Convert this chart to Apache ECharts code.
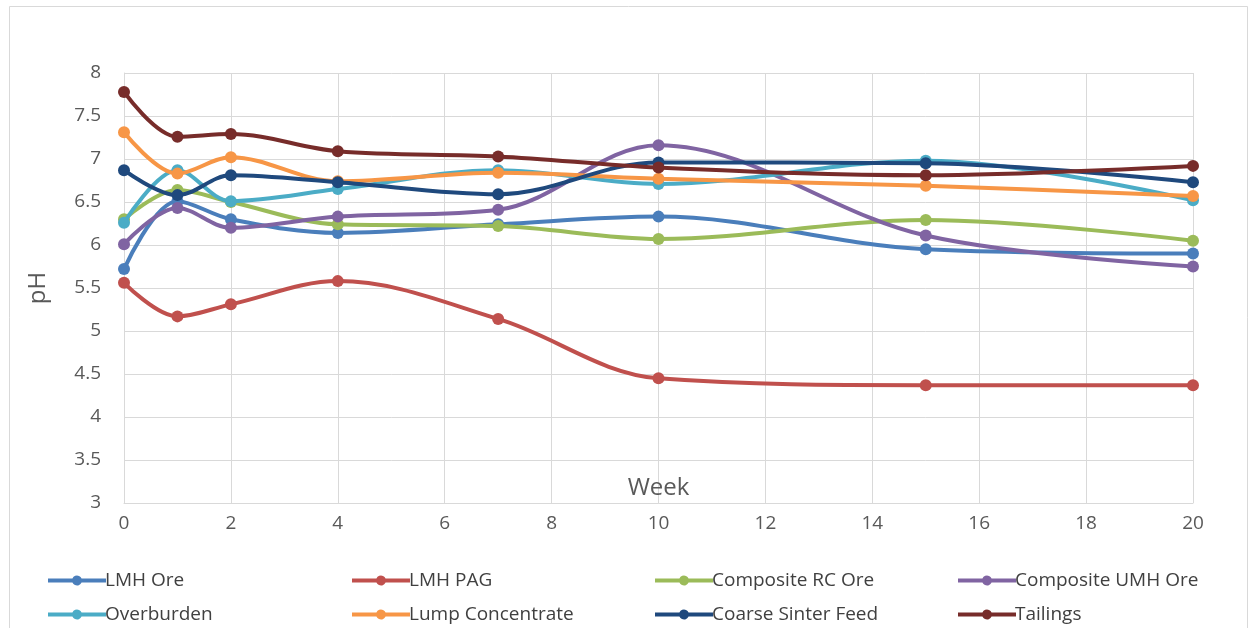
<!DOCTYPE html>
<html>
<head>
<meta charset="utf-8">
<script src="https://cdn.jsdelivr.net/npm/echarts@6/dist/echarts.min.js"></script>
<style>
  html, body { margin: 0; padding: 0; background: #fff; }
  #chart { width: 1250px; height: 628px; }
</style>
</head>
<body>
<div id="chart"></div>
<script>
// Weeks at which pH was measured
const weeks = [0, 1, 2, 4, 7, 10, 15, 20];

// pH readings per material
const lmhOre        = [5.72, 6.51, 6.30, 6.14, 6.24, 6.33, 5.95, 5.90];
const lmhPag        = [5.56, 5.17, 5.31, 5.58, 5.14, 4.45, 4.37, 4.37];
const compositeRc   = [6.30, 6.64, 6.50, 6.24, 6.22, 6.07, 6.29, 6.05];
const compositeUmh  = [6.01, 6.43, 6.20, 6.33, 6.41, 7.16, 6.11, 5.75];
const overburden    = [6.26, 6.87, 6.51, 6.65, 6.87, 6.71, 6.98, 6.52];
const lumpConc      = [7.31, 6.83, 7.02, 6.74, 6.84, 6.77, 6.69, 6.57];
const coarseSinter  = [6.87, 6.58, 6.81, 6.73, 6.59, 6.96, 6.95, 6.73];
const tailings      = [7.78, 7.26, 7.29, 7.09, 7.03, 6.90, 6.81, 6.92];

const seriesNames = ['LMH Ore', 'LMH PAG', 'Composite RC Ore', 'Composite UMH Ore',
                     'Overburden', 'Lump Concentrate', 'Coarse Sinter Feed', 'Tailings'];
const seriesData = [lmhOre, lmhPag, compositeRc, compositeUmh,
                    overburden, lumpConc, coarseSinter, tailings];
const colors = ['#4a7ebb', '#c0504d', '#9bbb59', '#8064a2',
                '#4bacc6', '#f79646', '#1f497d', '#772c2a'];

const FONT = '"Open Sans", "Noto Sans", sans-serif';
const chart = echarts.init(document.getElementById('chart'), null, { renderer: 'canvas' });

const series = seriesNames.map((name, i) => ({
  name: name,
  type: 'line',
  smooth: 0.35,
  data: weeks.map((w, j) => [w, seriesData[i][j]]),
  symbol: 'circle',
  symbolSize: 12,
  lineStyle: { width: 4, color: colors[i] },
  itemStyle: { color: colors[i] },
  z: 2 + i
}));

// Legend: thick line with a dot in the middle
const legendIcon = 'path://M0,3.5 L24.42,3.5 A5,5 0 0 1 33.58,3.5 L58,3.5 L58,7.5 L33.58,7.5 A5,5 0 0 1 24.42,7.5 L0,7.5 Z';

// Legend arranged as four columns of two rows each
const legendCols = [48, 352, 655, 958];
const legends = legendCols.map((left, c) => ({
  orient: 'vertical',
  left: left,
  top: 571,
  padding: 0,
  itemGap: 15,
  itemWidth: 58,
  itemHeight: 10,
  icon: legendIcon,
  data: [seriesNames[c], seriesNames[c + 4]],
  textStyle: { fontFamily: FONT, fontSize: 19, color: '#404040', padding: [0, 0, 0, -6] }
}));

chart.setOption({
  backgroundColor: '#fff',
  animation: false,
  color: colors,
  grid: { left: 124, right: 57, top: 73, bottom: 125 },
  xAxis: {
    type: 'value',
    min: 0, max: 20, interval: 2,
    name: 'Week',
    nameLocation: 'middle',
    nameGap: -3,
    nameMoveOverlap: false,
    nameTextStyle: { fontFamily: FONT, fontSize: 24, color: '#595959', verticalAlign: 'bottom' },
    axisLine: { show: true, lineStyle: { color: '#d9d9d9', width: 1 } },
    axisTick: { show: false },
    axisLabel: { fontFamily: FONT, fontSize: 19, color: '#595959', margin: 11 },
    splitLine: { show: true, lineStyle: { color: '#d9d9d9', width: 1 } }
  },
  yAxis: {
    type: 'value',
    min: 3, max: 8, interval: 0.5,
    name: 'pH',
    nameLocation: 'middle',
    nameGap: 74,
    nameRotate: 90,
    nameTextStyle: { fontFamily: FONT, fontSize: 24, color: '#595959' },
    axisLine: { show: true, lineStyle: { color: '#d9d9d9', width: 1 } },
    axisTick: { show: false },
    axisLabel: { fontFamily: FONT, fontSize: 19, color: '#595959', margin: 23 },
    splitLine: { show: true, lineStyle: { color: '#d9d9d9', width: 1 } }
  },
  legend: legends,
  graphic: [{
    type: 'rect',
    shape: { x: 9.5, y: 6.5, width: 1238, height: 640 },
    style: { fill: 'none', stroke: '#d9d9d9', lineWidth: 1 },
    silent: true
  }],
  series: series
});
</script>
</body>
</html>
